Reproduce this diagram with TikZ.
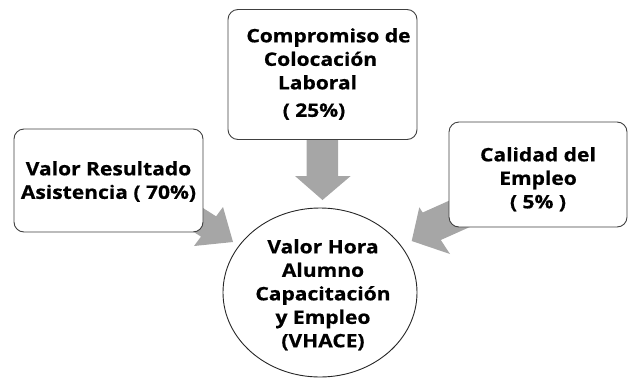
\documentclass[tikz,border=0pt]{standalone}
\usepackage{fontspec}
\usetikzlibrary{shapes.geometric}
\setmainfont{Open Sans}[BoldFont={Open Sans Bold}]
\newfontfamily\boxfont{Open Sans Bold}[FakeStretch=1.13,FakeBold=0.6]
\begin{document}
\begin{tikzpicture}[x=1pt,y=-1pt,
  box/.style={draw=black!75,line width=0.9pt,rounded corners=10pt,fill=white,inner sep=0pt},
  txt/.style={font=\boxfont\fontsize{18.6}{23.5}\selectfont,align=center,inner sep=0pt,anchor=north},
  blockarrow/.style={fill=black!35,draw=none}]
\useasboundingbox (0,0) rectangle (628,378);
% arrows (behind boxes)
\fill[blockarrow] (306.7,138) -- (338,138) -- (338,176) -- (350.7,176) -- (322.5,200) -- (295,176) -- (306.7,176) -- cycle;
\fill[blockarrow] (176.9,191.5) -- (216.1,216.3) -- (223,207) -- (233,242) -- (194,246) -- (201,236.6) -- (161.8,211.8) -- cycle;
\fill[blockarrow] (468.7,191.9) -- (422.7,212.5) -- (419.3,207.3) -- (411.7,241) -- (450,254) -- (440.8,240) -- (486.8,219.4) -- cycle;
% boxes
\node[box,minimum width=189pt,minimum height=130pt] (top) at (322.5,74.5) {};
\node[box,minimum width=189pt,minimum height=103pt] (left) at (108.5,180.5) {};
\node[box,minimum width=178pt,minimum height=105pt] (right) at (538,174.5) {};
\node[draw=black!85,line width=0.9pt,ellipse,minimum width=194pt,minimum height=169pt,inner sep=0pt] (circ) at (320,292.5) {};
% texts
\node[txt] (toptxt) at (314,28) {\hspace*{29pt}Compromiso de\\\hspace*{13pt}Colocación\\\hspace*{7pt}Laboral\\[4pt]( 25\%)};
\node[txt] (lefttxt) at (108.5,161) {Valor Resultado\\Asistencia ( 70\%)};
\node[txt] (righttxt) at (538,147) {Calidad del\\Empleo\\( 5\% )};
\node[txt] (circtxt) at (323,239) {Valor Hora\\Alumno\\Capacitación\\y Empleo\\(VHACE)};
\end{tikzpicture}
\end{document}
